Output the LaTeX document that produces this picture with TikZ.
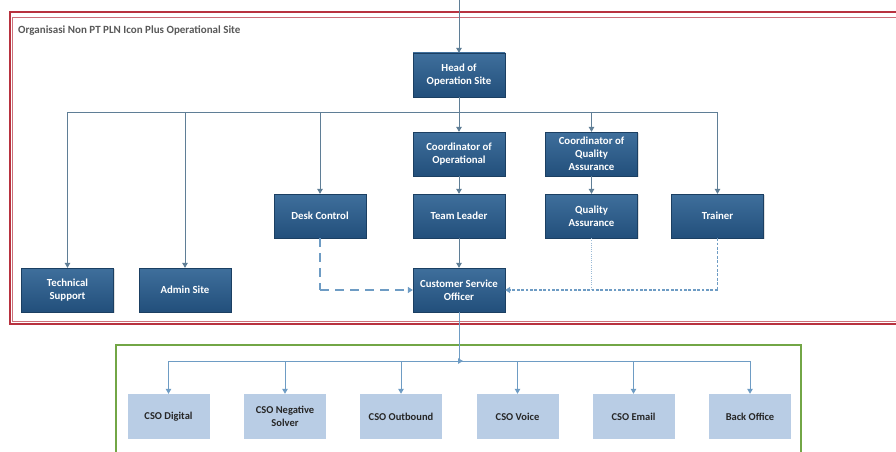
\documentclass[tikz,border=0pt]{standalone}
\usepackage{fontspec}
\setmainfont{Carlito}
\usetikzlibrary{arrows.meta,shadows}
\definecolor{boxtop}{HTML}{3F6F9C}
\definecolor{boxbot}{HTML}{224F7B}
\definecolor{lightbox}{HTML}{B9CDE5}
\definecolor{linegrey}{HTML}{5F7E96}
\definecolor{lineblue}{HTML}{6E9CC4}
\definecolor{framered}{HTML}{B8323F}
\definecolor{framegreen}{HTML}{72A646}
\tikzset{
  darkbox/.style={draw=boxbot!80!black, line width=0.3pt, top color=boxtop, bottom color=boxbot,
    minimum width=92pt, minimum height=44pt, inner sep=1pt, align=center,
    text=white, font=\bfseries\fontsize{10.8}{12.8}\selectfont,
    drop shadow={shadow xshift=1pt, shadow yshift=-1pt, opacity=0.25}},
  lbox/.style={fill=lightbox, draw=none, minimum width=82pt, minimum height=45pt,
    inner sep=1pt, align=center, text=black!85, font=\bfseries\fontsize{10.5}{12.8}\selectfont},
  conn/.style={draw=linegrey, line width=1pt},
  arr/.style={conn, -{Triangle[width=5.5pt,length=5pt]}},
  larr/.style={draw=lineblue, line width=1pt, -{Triangle[width=5.5pt,length=5pt]}},
}
\begin{document}
\begin{tikzpicture}[x=1pt,y=-1pt]
\useasboundingbox (0,0) rectangle (896,452);
\fill[white] (0,0) rectangle (896,452);
% frames
\draw[framered, line width=1.1pt] (10,12) rectangle (910,324);
\draw[framered!70, line width=0.7pt] (12.5,17) rectangle (910,321.5);
\draw[framegreen, line width=1.6pt] (116,345) rectangle (801,470);
\node[anchor=west, font=\bfseries\fontsize{11}{12}\selectfont, text=black!65, inner sep=0pt] (title) at (18,31) {Organisasi Non PT PLN Icon Plus Operational Site};

% dark boxes
\node[darkbox] (head) at (459,75) {Head of\\Operation Site};
\node[darkbox] (coordop) at (459,154) {Coordinator of\\Operational};
\node[darkbox] (team) at (459,216) {Team Leader};
\node[darkbox] (cso) at (459,290) {Customer Service\\Officer};
\node[darkbox] (coqa) at (591.5,154) {Coordinator of\\Quality\\Assurance};
\node[darkbox] (qa) at (591.5,216) {Quality\\Assurance};
\node[darkbox] (trainer) at (717.5,216) {Trainer};
\node[darkbox] (desk) at (320,216) {Desk Control};
\node[darkbox] (ts) at (67.5,290) {Technical\\Support};
\node[darkbox] (admin) at (185,290) {Admin Site};

% light boxes
\node[lbox] (digital) at (168.5,416.5) {CSO Digital};
\node[lbox] (neg) at (285,416.5) {CSO Negative\\Solver};
\node[lbox] (out) at (401,416.5) {CSO Outbound};
\node[lbox] (voice) at (517.5,416.5) {CSO Voice};
\node[lbox] (email) at (633.5,416.5) {CSO Email};
\node[lbox] (back) at (750,416.5) {Back Office};

% coordinates
\coordinate (topin) at (459,0);
\coordinate (busL) at (67.5,112);
\coordinate (busR) at (717.5,112);
\coordinate (busB) at (168.5,361);
\coordinate (busBR) at (750,361);
\coordinate (dashc) at (320,290);
\coordinate (dotc) at (717.5,290);
\coordinate (qadot) at (591.5,290);

% connectors upper
\draw[arr] (topin) -- (head.north);
\draw[arr] (head.south) -- (coordop.north);
\draw[conn] (busL) -- (busR);
\draw[arr] (busL) -- (ts.north);
\draw[arr] (admin.north |- busL) -- (admin.north);
\draw[arr] (desk.north |- busL) -- (desk.north);
\draw[arr] (coqa.north |- busL) -- (coqa.north);
\draw[arr] (busR) -- (trainer.north);
\draw[arr] (coordop.south) -- (team.north);
\draw[arr] (team.south) -- (cso.north);
\draw[arr] (coqa.south) -- (qa.north);

% dashed / dotted
\draw[lineblue, line width=1.6pt, dash pattern=on 9pt off 6pt] (desk.south) -- (dashc);
\draw[lineblue, line width=1.6pt, dash pattern=on 9pt off 6pt, -{Triangle[width=6pt,length=5pt]}] (dashc) -- (cso.west);
\draw[lineblue!70, line width=0.7pt, dash pattern=on 1pt off 1.2pt] (qa.south) -- (qadot);
\draw[lineblue, line width=1.7pt, dash pattern=on 2.8pt off 1.6pt] (trainer.south) -- (dotc);
\draw[lineblue, line width=1.7pt, dash pattern=on 2.8pt off 1.6pt, -{Triangle[width=6pt,length=5pt]}] (dotc) -- (cso.east);

% lower connectors
\draw[larr] (cso.south) |- ([xshift=4pt]cso.south |- busB);
\draw[draw=lineblue, line width=1pt] (busB) -- (busBR);
\draw[larr] (busB) -- (digital.north);
\draw[larr] (neg.north |- busB) -- (neg.north);
\draw[larr] (out.north |- busB) -- (out.north);
\draw[larr] (voice.north |- busB) -- (voice.north);
\draw[larr] (email.north |- busB) -- (email.north);
\draw[larr] (busBR) -- (back.north);
\end{tikzpicture}
\end{document}
